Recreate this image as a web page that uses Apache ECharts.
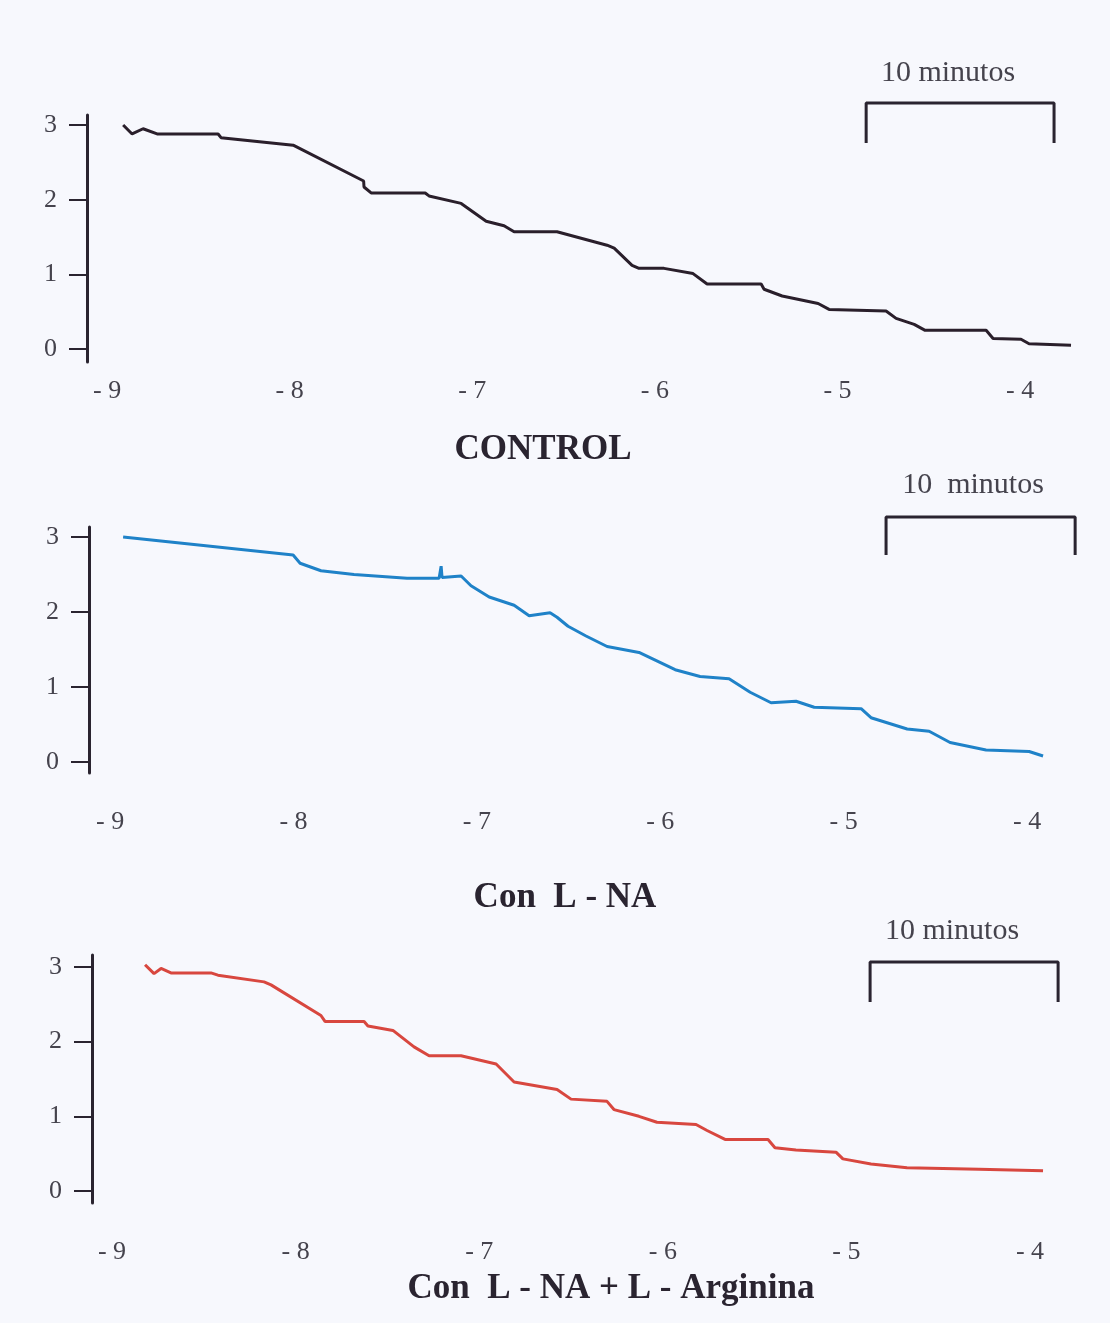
<!DOCTYPE html>
<html>
<head>
<meta charset="utf-8">
<script src="https://cdn.jsdelivr.net/npm/echarts@6/dist/echarts.min.js"></script>
<style>
html,body{margin:0;padding:0;background:#f7f8fd;}
#chart{width:1110px;height:1323px;}
</style>
</head>
<body>
<div id="chart"></div>
<script>
// ---- data (log concentration vs tension) ----
const xTickValues = [-9, -8, -7, -6, -5, -4];
const yTickValues = [0, 1, 2, 3];
const panelTitles = ['CONTROL', 'Con  L - NA', 'Con  L - NA + L - Arginina'];
const scaleLabels = ['10 minutos', '10  minutos', '10 minutos'];

const controlX = [-8.912,-8.863,-8.803,-8.726,-8.392,-8.376,-7.981,-7.595,-7.593,-7.554,-7.258,-7.237,-7.061,-6.924,-6.826,-6.771,-6.536,-6.262,-6.223,-6.125,-6.087,-5.950,-5.791,-5.714,-5.418,-5.402,-5.303,-5.106,-5.046,-4.734,-4.679,-4.580,-4.520,-4.186,-4.148,-3.995,-3.951,-3.721];
const controlY = [3.00,2.88,2.95,2.88,2.88,2.83,2.73,2.25,2.17,2.09,2.09,2.05,1.95,1.71,1.65,1.57,1.57,1.39,1.35,1.12,1.08,1.08,1.01,0.87,0.87,0.80,0.71,0.61,0.53,0.51,0.41,0.33,0.25,0.25,0.14,0.13,0.07,0.05];

const lnaX = [-8.929,-8.002,-7.964,-7.850,-7.670,-7.381,-7.206,-7.195,-7.190,-7.086,-7.032,-6.933,-6.797,-6.715,-6.601,-6.563,-6.503,-6.405,-6.290,-6.116,-5.919,-5.783,-5.625,-5.510,-5.396,-5.260,-5.161,-4.905,-4.851,-4.654,-4.534,-4.420,-4.224,-3.989,-3.913];
const lnaY = [3.00,2.76,2.65,2.55,2.50,2.45,2.45,2.61,2.46,2.48,2.35,2.20,2.09,1.95,1.99,1.93,1.81,1.68,1.54,1.46,1.23,1.14,1.11,0.93,0.79,0.81,0.73,0.71,0.59,0.44,0.41,0.26,0.16,0.14,0.08];

const argX = [-8.820,-8.771,-8.733,-8.679,-8.461,-8.423,-8.172,-8.134,-7.862,-7.840,-7.627,-7.606,-7.470,-7.355,-7.273,-7.099,-6.908,-6.810,-6.576,-6.500,-6.304,-6.266,-6.130,-6.032,-5.819,-5.759,-5.661,-5.427,-5.389,-5.275,-5.057,-5.019,-4.866,-4.670,-4.278,-3.929];
const argY = [3.03,2.91,2.98,2.92,2.92,2.89,2.80,2.76,2.35,2.27,2.27,2.21,2.15,1.93,1.81,1.81,1.70,1.46,1.36,1.23,1.20,1.09,1.00,0.92,0.89,0.81,0.69,0.69,0.58,0.55,0.52,0.43,0.36,0.31,0.29,0.27];

// ---- layout / style ----
const INK = '#2a2430';
const LABEL = '#45434d';
const SERIF = '"Liberation Serif", "DejaVu Serif", serif';
const colors = ['#2a1f2b', '#1f82c8', '#d8473f'];
const seriesX = [controlX, lnaX, argX];
const seriesY = [controlY, lnaY, argY];

const panels = [
  {left: 87, top: 115, height: 247, xMin: -9.11,  yMin: -0.174, yMax: 3.134, labelMargin: 16, scale: 182.6,
   bar: [-4.843, -3.814, 3.295, 2.759], titleY: 450, titleX: 543, scaleX: 948, scaleY: 73},
  {left: 89, top: 527, height: 246, xMin: -9.115, yMin: -0.147, yMax: 3.133, labelMargin: 36, scale: 183.4,
   bar: [-4.769, -3.738, 3.267, 2.76], titleY: 898, titleX: 565, scaleX: 973, scaleY: 485},
  {left: 92, top: 955, height: 248, xMin: -9.109, yMin: -0.161, yMax: 3.16, labelMargin: 36, scale: 183.6,
   bar: [-4.871, -3.847, 3.067, 2.531], titleY: 1289, titleX: 611, scaleX: 952, scaleY: 931}
];
const xMax = -3.6;

const grids = [], xAxes = [], yAxes = [], series = [], graphics = [];
panels.forEach((p, i) => {
  grids.push({left: p.left, top: p.top, height: p.height, width: (xMax - p.xMin) * p.scale});
  xAxes.push({
    type: 'value', gridIndex: i, min: p.xMin, max: xMax,
    axisLine: {show: false, onZero: false}, axisTick: {show: false}, splitLine: {show: false},
    axisLabel: {
      customValues: xTickValues, margin: p.labelMargin, color: LABEL,
      fontFamily: SERIF, fontSize: 26,
      formatter: v => '- ' + Math.abs(v)
    }
  });
  yAxes.push({
    type: 'value', gridIndex: i, min: p.yMin, max: p.yMax, position: 'left',
    axisLine: {show: true, onZero: false, lineStyle: {color: INK, width: 3}},
    axisTick: {show: true, customValues: yTickValues, length: 18, lineStyle: {color: INK, width: 2}},
    axisLabel: {customValues: yTickValues, margin: 30, color: LABEL, fontFamily: SERIF, fontSize: 26},
    splitLine: {show: false}
  });
  series.push({
    type: 'line', xAxisIndex: i, yAxisIndex: i, showSymbol: false, silent: true,
    data: seriesX[i].map((x, k) => [x, seriesY[i][k]]),
    lineStyle: {color: colors[i], width: 3}, itemStyle: {color: colors[i]}
  });
  const b = p.bar;
  series.push({
    type: 'line', xAxisIndex: i, yAxisIndex: i, showSymbol: false, silent: true, clip: false,
    data: [[b[0], b[3]], [b[0], b[2]], [b[1], b[2]], [b[1], b[3]]],
    lineStyle: {color: INK, width: 3}
  });
  graphics.push({
    type: 'text', x: p.titleX, y: p.titleY,
    style: {text: panelTitles[i], textAlign: 'center', textVerticalAlign: 'middle',
            font: 'bold 35px ' + SERIF, fill: INK}
  });
  graphics.push({
    type: 'text', x: p.scaleX, y: p.scaleY,
    style: {text: scaleLabels[i], textAlign: 'center', textVerticalAlign: 'middle',
            font: '30px ' + SERIF, fill: LABEL}
  });
});

const chart = echarts.init(document.getElementById('chart'), null, {renderer: 'canvas'});
chart.setOption({
  backgroundColor: '#f7f8fd',
  animation: false,
  grid: grids, xAxis: xAxes, yAxis: yAxes, series: series, graphic: graphics
});
</script>
</body>
</html>
